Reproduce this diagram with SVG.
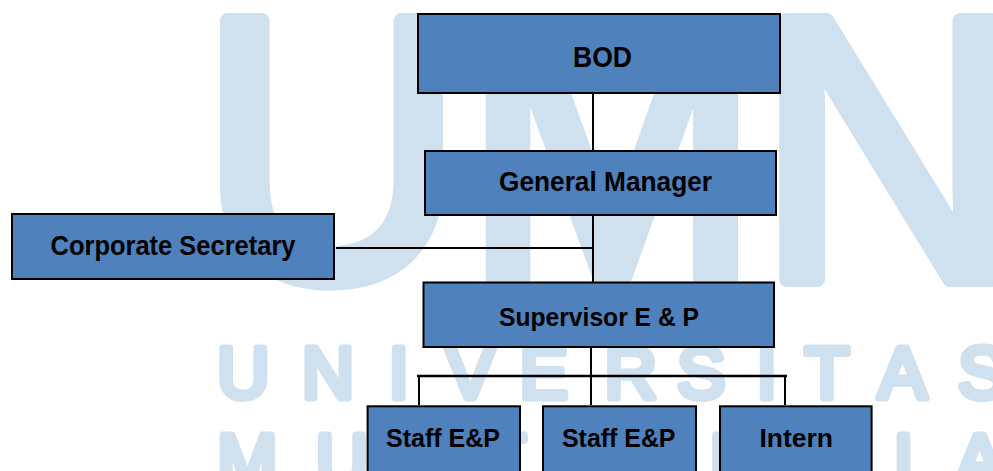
<svg xmlns="http://www.w3.org/2000/svg" width="993" height="471" viewBox="0 0 993 471">
<style>
.wm{fill:#CFE0EF;stroke:#CFE0EF;stroke-linejoin:round;font-family:"Liberation Sans",Arial,sans-serif;}
.big{font-size:375px;stroke-width:16;}
.small{font-size:72px;stroke-width:7;}
.box{fill:#4F81BD;stroke:#000;stroke-width:2;}
.lbl{font-family:"Liberation Sans",Arial,sans-serif;font-weight:bold;fill:#000;}
.con{fill:none;stroke:#000;stroke-width:2;}
</style>
<rect width="993" height="471" fill="#FFFFFF"/>
<g id="watermark">
<text class="wm big" transform="translate(199.6 279) scale(0.974 1)">U</text>
<text class="wm big" transform="translate(464.3 279) scale(0.945 1)">M</text>
<text class="wm big" transform="translate(757 279) scale(0.974 1)">N</text>
<text class="wm small" x="217.3 302 388.8 446.2 519.8 604.7 677.2 756.8 804.9 878.5 958.2" y="398">UNIVERSITAS</text>
<text class="wm small" x="217.2 316 408.2 481.9 561.8 620.2 709.8 788 893.5 955.5" y="484.7">MULTIMEDIA</text>
</g>
<g id="connectors">
<path class="con" d="M593 94V150"/>
<path class="con" d="M593 216V282"/>
<path class="con" d="M336 248H593"/>
<path class="con" d="M591 348V405"/>
<path class="con" d="M417 376H787" style="stroke-width:2.5"/>
<path class="con" d="M419 376V405"/>
<path class="con" d="M785 376V405"/>
</g>
<g id="node-bod">
<rect class="box" x="418" y="14" width="362" height="79"/>
<text class="lbl" x="573" y="67" font-size="29" textLength="59" lengthAdjust="spacingAndGlyphs">BOD</text>
</g>
<g id="node-gm">
<rect class="box" x="425" y="151" width="351" height="64"/>
<text class="lbl" x="499" y="191" font-size="28" textLength="213" lengthAdjust="spacingAndGlyphs">General Manager</text>
</g>
<g id="node-cs">
<rect class="box" x="12" y="214" width="322" height="65"/>
<text class="lbl" x="50.5" y="255" font-size="27.5" textLength="245" lengthAdjust="spacingAndGlyphs">Corporate Secretary</text>
</g>
<g id="node-sup">
<rect class="box" x="423.5" y="282.5" width="350.5" height="64.5"/>
<text class="lbl" x="499" y="326" font-size="26.5" textLength="200" lengthAdjust="spacingAndGlyphs">Supervisor E &amp; P</text>
</g>
<g id="node-staff1">
<rect class="box" x="367.6" y="406.3" width="152.4" height="80"/>
<text class="lbl" x="386" y="446.7" font-size="26.5" textLength="114" lengthAdjust="spacingAndGlyphs">Staff E&amp;P</text>
</g>
<g id="node-staff2">
<rect class="box" x="543" y="406.3" width="153" height="80"/>
<text class="lbl" x="562" y="446.7" font-size="26.5" textLength="113.5" lengthAdjust="spacingAndGlyphs">Staff E&amp;P</text>
</g>
<g id="node-intern">
<rect class="box" x="720" y="406.3" width="151.6" height="80"/>
<text class="lbl" x="759.5" y="446.7" font-size="25.5" textLength="73.5" lengthAdjust="spacingAndGlyphs">Intern</text>
</g>
</svg>
